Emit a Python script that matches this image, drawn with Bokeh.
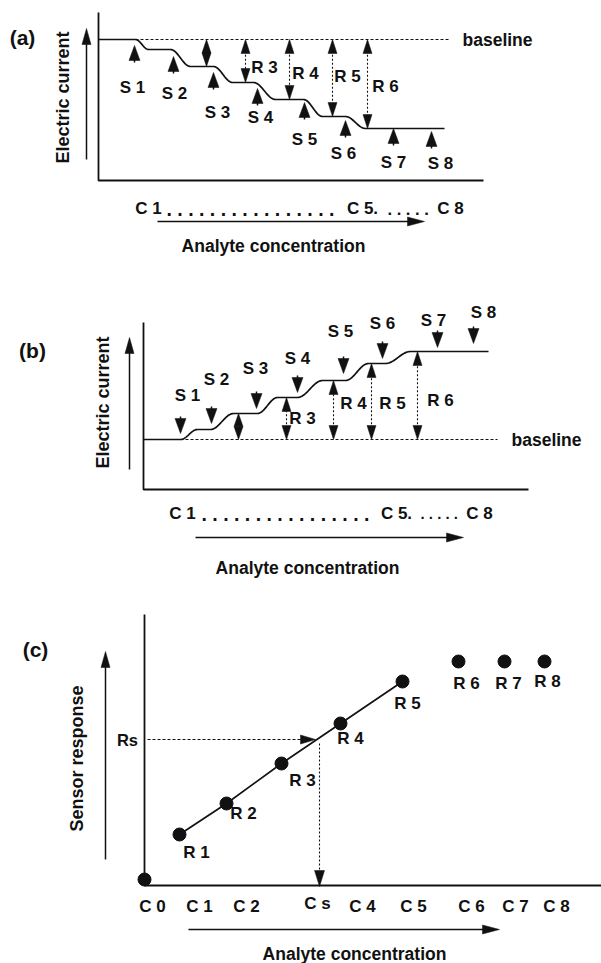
import numpy as np
from bokeh.plotting import figure
from bokeh.layouts import column
from bokeh.models import Range1d
from bokeh.core.properties import value
from bokeh.embed import file_html
from bokeh.resources import INLINE

FONT = "Liberation Sans"
INK = "#111111"
FS = "17px"

# ---------------- panel (a): current steps down ----------------
a_step_start = [0, 50, 92, 134, 177, 224, 267]
a_step_end = [37, 72, 115, 155, 205, 247, 346]
a_level = [141, 131, 114, 98, 81, 64, 52]
a_baseline_end = 350
s_labels = ["S 1", "S 2", "S 3", "S 4", "S 5", "S 6", "S 7", "S 8"]
a_s_x = [36, 75, 115, 159, 206, 247, 295, 333]
a_s_tip = [135, 124, 108, 92, 78, 60, 52, 49]
a_s_lx = [34, 76, 119, 162, 206, 245, 295, 342]
a_s_ly = [93, 87, 68, 63, 41, 27, 18, 17]
a_r_x = [108, 147, 191, 234, 269]
a_r_step = [2, 3, 4, 5, 6]
r_labels = ["R 3", "R 4", "R 5", "R 6"]
a_r_lx = [166, 207, 249, 287]
a_r_ly = [113, 107, 104, 94]
a_c_labels = ["C 1", "C 5.", "C 8"]
a_c_x = [50, 264, 352]
a_dot_x = [68, 289]
a_dot_n = [16, 5]
a_dot_fs = ["19.5px", "16.5px"]

# ---------------- panel (b): current steps up ----------------
b_step_start = [0, 54, 90, 134, 179, 225, 267]
b_step_end = [37, 67, 114, 154, 202, 242, 345]
b_level = [50, 60, 76, 92, 109, 126, 138]
b_baseline_end = 354
b_s_x = [37, 68, 113, 154, 200, 239, 294, 330]
b_s_tip = [56, 66, 81, 97, 116, 131, 142, 146]
b_s_lx = [44, 73, 112, 154, 197, 239, 290, 340]
b_s_ly = [94, 110, 121, 131, 158, 166, 169, 177]
b_r_x = [95, 143, 190, 228, 274]
b_r_step = [2, 3, 4, 5, 6]
b_r_lx = [159, 210, 249, 297]
b_r_ly = [71, 86, 86, 89]
b_c_labels = ["C 1", "C 5.", "C 8"]
b_c_x = [39, 253, 336]
b_dot_x = [58, 277]
b_dot_n = [16, 5]
b_dot_fs = ["19.5px", "15px"]

# ---------------- panel (c): calibration ----------------
c_point_x = [35, 82, 137, 196, 258, 314, 360, 400]
c_point_y = [51, 82, 122, 162, 204, 224, 224, 224]
c_point_labels = ["R 1", "R 2", "R 3", "R 4", "R 5", "R 6", "R 7", "R 8"]
c_lab_x = [52, 99, 158, 206, 263, 322, 364, 403]
c_lab_y = [33, 72, 105, 147, 182, 202, 202, 204]
c_linear = 5  # R1..R5 lie on the calibration line
c_origin_y = 6
c_tick_labels = ["C 0", "C 1", "C 2", "C s", "C 4", "C 5", "C 6", "C 7", "C 8"]
c_tick_x = [8, 55, 102, 173, 218, 269, 327, 371, 412]
c_rs = 146
c_cs = 175


def make_fig(x0, x1, y0, y1):
    p = figure(width=int(x1 - x0), height=int(y1 - y0),
               x_range=Range1d(x0, x1), y_range=Range1d(y0, y1),
               output_backend="svg", toolbar_location=None,
               x_axis_location=None, y_axis_location=None, min_border=0)
    p.grid.visible = False
    p.outline_line_color = None
    p.background_fill_color = "white"
    p.border_fill_color = "white"
    return p


def txt(p, x, y, t, size=FS, align="center", angle=0.0, style="bold", baseline="middle"):
    p.text(x=x, y=y, text=t, text_font=value(FONT), text_font_size=size,
           text_font_style=style, text_align=align, text_baseline=baseline,
           text_color=INK, angle=angle)


def head(p, xt, yt, dx, dy, length, width):
    n = np.hypot(dx, dy)
    ux, uy = dx / n, dy / n
    bx, by = xt - ux * length, yt - uy * length
    px, py = -uy * width / 2, ux * width / 2
    p.patch([xt, bx + px, bx - px], [yt, by + py, by - py],
            fill_color=INK, line_color=INK, line_width=0.5)


def arrow(p, x0, y0, x1, y1, hl=12, hw=9, dash="solid", both=False, lw=1.5):
    dx, dy = x1 - x0, y1 - y0
    n = np.hypot(dx, dy)
    ux, uy = dx / n, dy / n
    if both:
        hl = min(hl, n / 2)
    sx, sy = x0, y0
    if both:
        sx, sy = x0 + ux * hl * 0.8, y0 + uy * hl * 0.8
        head(p, x0, y0, -dx, -dy, hl, hw)
    ex, ey = x1 - ux * hl * 0.8, y1 - uy * hl * 0.8
    if np.hypot(ex - sx, ey - sy) > 1:
        p.line([sx, ex], [sy, ey], line_color=INK, line_width=lw, line_dash=dash)
    head(p, x1, y1, dx, dy, hl, hw)


def step_curve(starts, ends, levels, n=24):
    xs, ys = [], []
    for i in range(len(levels)):
        xs += [starts[i], ends[i]]
        ys += [levels[i], levels[i]]
        if i < len(levels) - 1:
            t = np.linspace(0, 1, n)[1:-1]
            s = (1 - np.cos(np.pi * t)) / 2
            xs += list(ends[i] + (starts[i + 1] - ends[i]) * t)
            ys += list(levels[i] + (levels[i + 1] - levels[i]) * s)
    return xs, ys


def step_panel(p, label, lab_xy, starts, ends, levels, base_end, s_x, s_tip, s_dir,
               s_lx, s_ly, r_x, r_step, r_lx, r_ly, c_labels, c_x, c_y, dot_x, dot_n,
               dot_fs, yaxis_top, xaxis_end, yarrow, ytitle_xy, xarrow, xtitle_xy):
    # frame
    p.line([0, 0, xaxis_end], [yaxis_top, 0, 0], line_color=INK, line_width=1.8)
    txt(p, [lab_xy[0]], [lab_xy[1]], [label], size="21px")
    # y arrow + title
    arrow(p, yarrow[0], yarrow[1], yarrow[0], yarrow[2], hl=16, hw=9)
    txt(p, [ytitle_xy[0]], [ytitle_xy[1]], ["Electric current"], size="18px", angle=np.pi / 2)
    # x arrow + title
    arrow(p, xarrow[0], xarrow[2], xarrow[1], xarrow[2], hl=17, hw=9)
    txt(p, [xtitle_xy[0]], [xtitle_xy[1]], ["Analyte concentration"], size="17.5px")
    # concentration labels with dot leaders, sharing one text baseline
    c_base = c_y - 6
    txt(p, c_x, [c_base] * len(c_x), c_labels, baseline="alphabetic")
    for dx_, dn, fs in zip(dot_x, dot_n, dot_fs):
        txt(p, [dx_], [c_base], [". " * (dn - 1) + "."], size=fs, align="left",
            baseline="alphabetic")
    # baseline
    base = levels[0]
    p.line([ends[0], base_end], [base, base], line_color=INK, line_width=1.1, line_dash="3 2")
    txt(p, [base_end + 14], [base], ["baseline"], size="17.5px", align="left")
    # signal curve
    xs, ys = step_curve(starts, ends, levels)
    p.line(xs, ys, line_color=INK, line_width=1.7)
    # sample injection arrows
    for x, tip in zip(s_x, s_tip):
        arrow(p, x, tip - s_dir * 17, x, tip, hl=15, hw=11)
    txt(p, s_lx, s_ly, s_labels)
    # response arrows
    for x, k in zip(r_x, r_step):
        arrow(p, x, base, x, levels[k], hl=14, hw=9, dash="2 2", both=True, lw=1.1)
    txt(p, r_lx, r_ly, r_labels)


pa = make_fig(-98, 503, -78, 180)
step_panel(pa, "(a)", (-76, 143), a_step_start, a_step_end, a_level, a_baseline_end,
           a_s_x, a_s_tip, 1, a_s_lx, a_s_ly, a_r_x, a_r_step, a_r_lx, a_r_ly,
           a_c_labels, a_c_x, -22, a_dot_x, a_dot_n, a_dot_fs,
           168, 385, (-12, 21, 152), (-36, 83), (59, 326, -41), (175, -65))

pb = make_fig(-143, 458, -104, 231)
step_panel(pb, "(b)", (-111, 139), b_step_start, b_step_end, b_level, b_baseline_end,
           b_s_x, b_s_tip, -1, b_s_lx, b_s_ly, b_r_x, b_r_step, b_r_lx, b_r_ly,
           b_c_labels, b_c_x, -18, b_dot_x, b_dot_n, b_dot_fs,
           167, 385, (-14, 20, 152), (-41, 87), (52, 320, -48), (164, -78))

pc = make_fig(-144, 457, -78, 292)
pc.line([0, 0, 457], [271, 0, 0], line_color=INK, line_width=1.8)
txt(pc, [-109], [236], ["(c)"], size="21px")
arrow(pc, -39, 26, -39, 234, hl=16, hw=9)
txt(pc, [-68], [127], ["Sensor response"], size="18px", angle=np.pi / 2)
arrow(pc, 44, -44, 355, -44, hl=17, hw=9)
txt(pc, [210], [-68], ["Analyte concentration"], size="17.5px")
pc.line(c_point_x[:c_linear], c_point_y[:c_linear], line_color=INK, line_width=1.7)
pc.scatter([0] + c_point_x, [c_origin_y] + c_point_y, size=13, marker="circle",
           fill_color=INK, line_color=INK)
txt(pc, c_lab_x, c_lab_y, c_point_labels)
tick_y = [-21 if t != "C s" else -18 for t in c_tick_labels]
txt(pc, c_tick_x, tick_y, c_tick_labels)
txt(pc, [-17], [c_rs], ["Rs"], size="16.5px")
arrow(pc, 3, c_rs, c_cs - 4, c_rs, hl=15, hw=9, dash="3 2", lw=1.1)
arrow(pc, c_cs, c_rs - 4, c_cs, -1, hl=16, hw=10, dash="2 2", lw=1.1)

layout = column(pa, pb, pc, spacing=0)
open("out.html", "w").write(file_html(layout, INLINE))
